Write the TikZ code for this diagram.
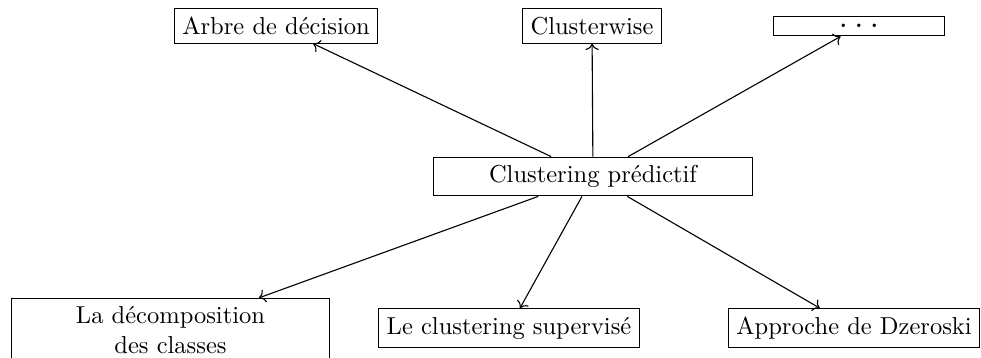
\documentclass[tikz,border=0pt]{standalone}
\usetikzlibrary{arrows.meta}
\begin{document}
\begin{tikzpicture}[x=0.408pt,y=-0.408pt,
  box/.style={draw,line width=0.45pt,inner sep=3.33pt,font=\fontsize{10}{12}\selectfont},
  link/.style={->,line width=0.45pt}]
\useasboundingbox (0,0) rectangle (981,358);
\node[box,minimum width=130pt] (src) at (593,176.5) {Clustering prédictif};
\node[box] (arbre) at (276,26) {Arbre de décision};
\node[box] (cw) at (592,26) {Clusterwise};
\node[box,minimum width=70pt] (dots) at (859,26) {\Large$\ldots$};
\node[box,text width=123pt,align=center] (dec) at (170.5,330) {La décomposition\\des classes};
\node[box] (sup) at (509,328) {Le clustering supervisé};
\node[box] (dz) at (854,328) {Approche de Dzeroski};
\draw[link] (src) -- (arbre);
\draw[link] (src) -- (cw);
\draw[link] (src) -- (dots);
\draw[link] (src) -- (dec);
\draw[link] (src) -- (sup);
\draw[link] (src) -- (dz);
\end{tikzpicture}
\end{document}
